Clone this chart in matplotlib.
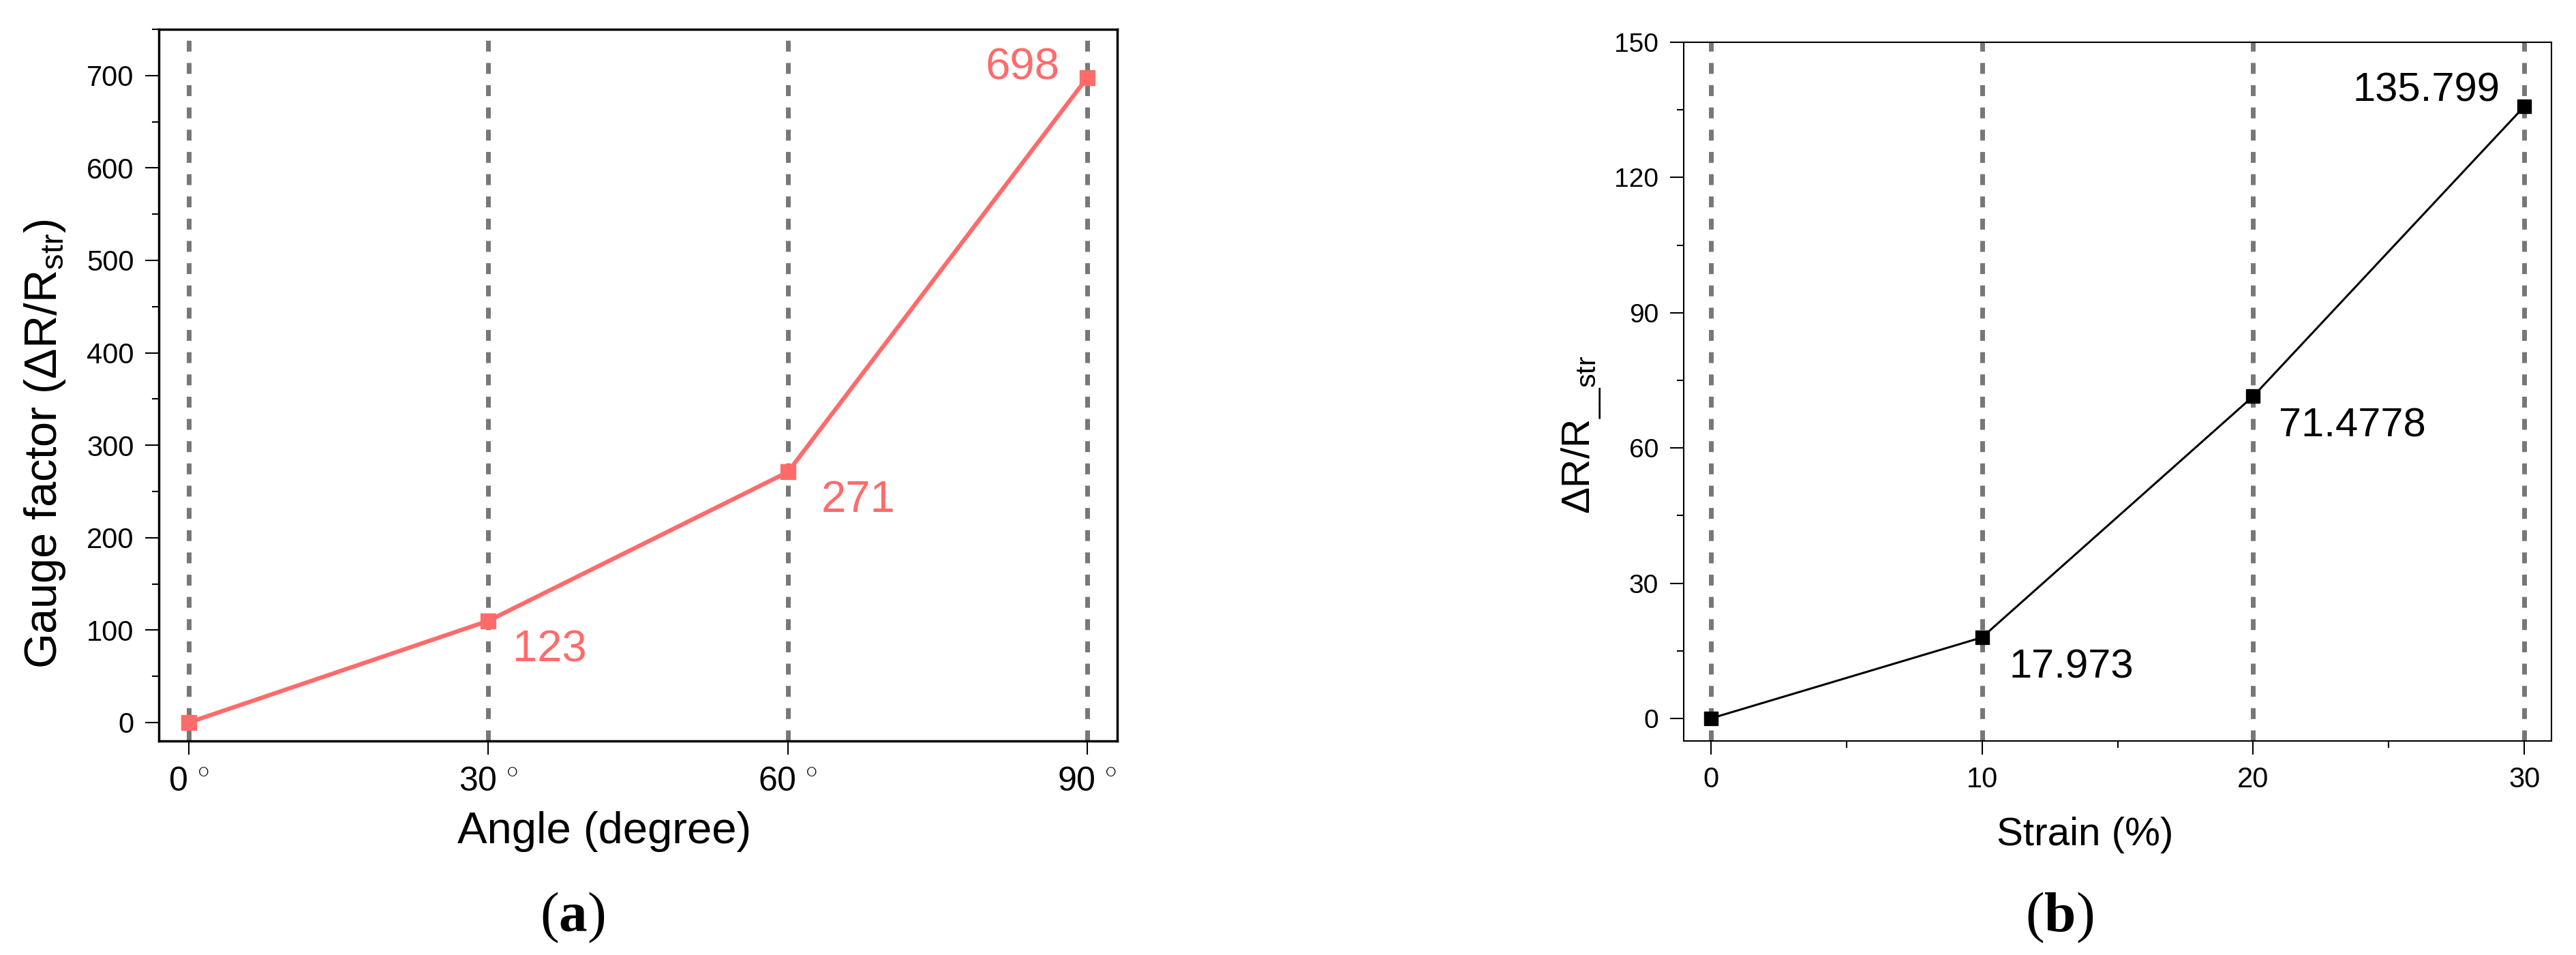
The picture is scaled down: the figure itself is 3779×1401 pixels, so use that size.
import matplotlib
matplotlib.use("Agg")
import matplotlib.pyplot as plt
from matplotlib.ticker import MultipleLocator

plt.rcParams['font.family'] = ['Liberation Sans', 'DejaVu Sans']
plt.rcParams['mathtext.fontset'] = 'custom'
plt.rcParams['mathtext.rm'] = 'Liberation Sans'
plt.rcParams['mathtext.it'] = 'Liberation Sans:italic'
plt.rcParams['mathtext.bf'] = 'Liberation Serif:bold'

# panel (a): gauge factor vs angle
angles = [0, 30, 60, 90]
gauge = [0, 110, 271, 698]
gauge_labels = ["", "123", "271", "698"]
angle_ticks = [r"0 $^{\circ}$", r"30 $^{\circ}$", r"60 $^{\circ}$", r"90 $^{\circ}$"]

# panel (b): resistance change vs strain
strain = [0, 10, 20, 30]
dr = [0, 17.973, 71.4778, 135.799]
dr_labels = ["", "17.973", "71.4778", "135.799"]

red = '#ff6b6b'
grey = '#777777'

fig = plt.figure(figsize=(37.79, 14.01), dpi=100)
ax1 = fig.add_axes([0.06166, 0.2241, 0.3721, 0.7452])
ax2 = fig.add_axes([0.6536, 0.2241, 0.3369, 0.7316])

# --- panel a ---
for x in angles:
    ax1.axvline(x, color=grey, lw=5, dashes=(2.3, 2.4), zorder=1)
ax1.plot(angles, gauge, color=red, lw=4.5, marker='s', markersize=16, zorder=3)
ax1.set_xlim(-3, 93)
ax1.set_ylim(-20, 750)
ax1.set_xticks(angles)
ax1.set_xticklabels(angle_ticks, fontsize=36)
ax1.yaxis.set_major_locator(MultipleLocator(100))
ax1.yaxis.set_minor_locator(MultipleLocator(50))
ax1.set_yticks(range(0, 701, 100))
ax1.tick_params(axis='y', labelsize=30)
ax1.tick_params(which='major', direction='out', length=14.4, width=1.5, pad=12)
ax1.tick_params(which='minor', direction='out', length=7.2, width=1.5)
for sp in ax1.spines.values():
    sp.set_linewidth(2.5)

ax1.set_xlabel("Angle (degree)", fontsize=47, va='top')
ax1.xaxis.set_label_coords(0.465, -0.099)
ax1.set_ylabel("Gauge factor (ΔR/R$_{\\mathrm{str}}$)", fontsize=48)
ax1.yaxis.set_label_coords(-0.095, 0.417)

offs_a = {1: (26, -9, 'left', 'top'), 2: (35, -8, 'left', 'top'), 3: (-29.5, -11.5, 'right', 'bottom')}
for i, (dx, dy, ha, va) in offs_a.items():
    ax1.annotate(gauge_labels[i], (angles[i], gauge[i]), xytext=(dx, dy),
                 textcoords='offset points', ha=ha, va=va, fontsize=47, color=red)

# --- panel b ---
for x in strain:
    ax2.axvline(x, color=grey, lw=5, dashes=(2.3, 2.4), zorder=1)
ax2.plot(strain, dr, color='black', lw=2.2, marker='s', markersize=14, zorder=3)
ax2.set_xlim(-1, 31)
ax2.set_ylim(-5, 150)
ax2.set_xticks(strain)
ax2.xaxis.set_minor_locator(MultipleLocator(5))
ax2.yaxis.set_major_locator(MultipleLocator(30))
ax2.yaxis.set_minor_locator(MultipleLocator(15))
ax2.tick_params(axis='x', labelsize=30)
ax2.tick_params(axis='y', labelsize=28)
ax2.tick_params(which='major', direction='out', length=14.4, width=1.5, pad=12)
ax2.tick_params(which='minor', direction='out', length=7.2, width=1.5)
for sp in ax2.spines.values():
    sp.set_linewidth(1.5)

ax2.set_xlabel("Strain (%)", fontsize=42, va='top')
ax2.xaxis.set_label_coords(0.4627, -0.108)
ax2.set_ylabel("ΔR/R$_{\\mathrm{\\_\\_str}}$", fontsize=42)
ax2.yaxis.set_label_coords(-0.0927, 0.438)

offs_b = {1: (29, -12, 'left', 'top'), 2: (27, -12, 'left', 'top'), 3: (-26, -3.6, 'right', 'bottom')}
for i, (dx, dy, ha, va) in offs_b.items():
    ax2.annotate(dr_labels[i], (strain[i], dr[i]), xytext=(dx, dy),
                 textcoords='offset points', ha=ha, va=va, fontsize=43, color='black')

fig.text(0.2223, 0.0393, r"($\mathbf{a}$)", family='Liberation Serif', fontsize=60,
         ha='center', va='center')
fig.text(0.7994, 0.0393, r"($\mathbf{b}$)", family='Liberation Serif', fontsize=60,
         ha='center', va='center')

fig.savefig("out.png", dpi=100)
